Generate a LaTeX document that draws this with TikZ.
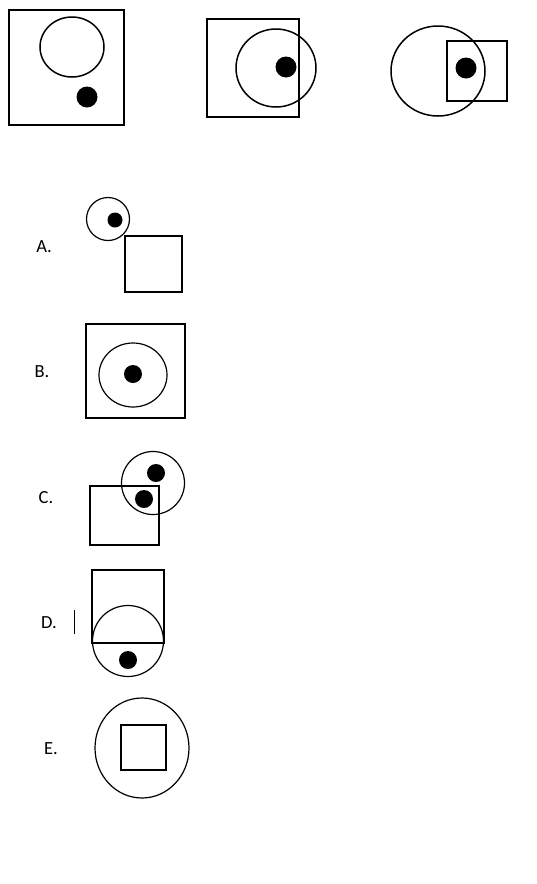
\documentclass[tikz,border=0pt]{standalone}
\usepackage{fontspec}
\setmainfont{Carlito}
\usetikzlibrary{positioning}

\begin{document}
\begin{tikzpicture}[x=1pt,y=-1pt, line width=1.2pt,
    every node/.style={font=\fontsize{18.5}{21}\selectfont, inner sep=0pt},
    dot/.style={fill=black, draw=none}]
    \useasboundingbox (0,0) rectangle (536,884);
    % question row
    \draw[line width=1.5pt] (9,10) rectangle (124,125);
    \draw[line width=1.5pt] (72,47) ellipse (32 and 30);
    \fill[dot] (87,97) circle (10.5);
    \draw[line width=1.5pt] (207,19) rectangle (299,117);
    \draw[line width=1.5pt] (276,68) ellipse (40 and 39);
    \fill[dot] (286,67) circle (10.5);
    \draw[line width=1.5pt] (438,71) ellipse (47 and 45);
    \draw[line width=1.5pt] (447,41) rectangle (507,101);
    \fill[dot] (466,68) circle (10.5);
    % answers
    \node (la) at (44,247) {A.};
    \draw (108,219) circle (21.5);
    \fill[dot] (115,220) circle (7.5);
    \draw (125,236) rectangle (182,292);
    \node (lb) at (42,372) {B.};
    \draw (86,324) rectangle (185,418);
    \draw (133,375) ellipse (34 and 32);
    \fill[dot] (133,374) circle (9);
    \node (lc) at (46,498) {C.};
    \draw (153,483) circle (31.5);
    \fill[dot] (156,473) circle (9);
    \fill[dot] (144,499) circle (9);
    \draw (90,486) rectangle (159,545);
    \node (ld) at (49,623) {D.};
    \draw[line width=0.8pt] (74,610) -- (74,634);
    \draw (92,570) rectangle (164,643);
    \draw (128,641) circle (35.5);
    \fill[dot] (128,660) circle (9);
    \node (le) at (51,749) {E.};
    \draw (142,748) ellipse (47 and 50);
    \draw (121,725) rectangle (166,770);
\end{tikzpicture}
\end{document}
